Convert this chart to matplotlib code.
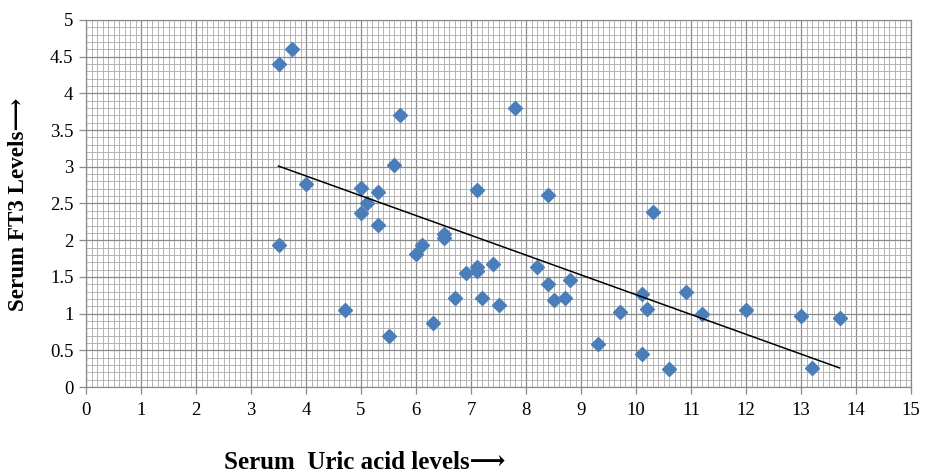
import matplotlib
matplotlib.use("Agg")
import matplotlib.pyplot as plt
from matplotlib.ticker import MultipleLocator, FuncFormatter

# Data
uric_acid = [3.5, 3.75, 3.5, 4.0, 4.7, 5.0, 5.0, 5.1, 5.3, 5.3, 5.5, 5.6, 5.7,
             6.0, 6.1, 6.3, 6.5, 6.5, 6.7, 6.9, 7.1, 7.1, 7.1, 7.2, 7.4, 7.5,
             7.8, 8.2, 8.4, 8.4, 8.5, 8.7, 8.8, 9.3, 9.7, 10.1, 10.1, 10.2,
             10.3, 10.6, 10.9, 11.2, 12.0, 13.0, 13.2, 13.7]
ft3 = [4.40, 4.60, 1.93, 2.77, 1.05, 2.71, 2.37, 2.50, 2.65, 2.21, 0.70, 3.02, 3.70,
       1.81, 1.94, 0.87, 2.09, 2.03, 1.21, 1.55, 1.64, 1.58, 2.68, 1.21, 1.67, 1.12,
       3.80, 1.63, 1.40, 2.62, 1.19, 1.21, 1.46, 0.59, 1.02, 1.27, 0.45, 1.06,
       2.38, 0.24, 1.30, 0.99, 1.05, 0.97, 0.26, 0.94]
trend_x = [3.5, 13.7]
trend_y = [3.01, 0.26]

x_label = "Serum  Uric acid levels\u27f6"
y_label = "Serum FT3 Levels\u27f6"

fam = ["Liberation Serif", "DejaVu Serif", "DejaVu Sans"]
plt.rcParams["font.family"] = fam

fig = plt.figure(figsize=(9.3, 4.73), dpi=100)
ax = fig.add_axes([86/930, 1-387/473, (911-86)/930, (387-20)/473])

ax.set_xlim(0, 15)
ax.set_ylim(0, 5)
ax.xaxis.set_major_locator(MultipleLocator(1))
ax.xaxis.set_minor_locator(MultipleLocator(0.1))
ax.yaxis.set_major_locator(MultipleLocator(0.5))
ax.yaxis.set_minor_locator(MultipleLocator(0.1))
ax.yaxis.set_major_formatter(FuncFormatter(lambda v, p: f"{v:g}"))

ax.grid(which="minor", color="#b0b0b0", linewidth=0.65)
ax.grid(which="major", color="#8a8a8a", linewidth=0.9)
ax.set_axisbelow(True)

for s in ax.spines.values():
    s.set_color("#8a8a8a")
    s.set_linewidth(0.9)

ax.tick_params(which="minor", length=0)
ax.tick_params(which="major", length=5, width=0.9, color="#8a8a8a",
               labelsize=13.5, pad=6)
ax.tick_params(axis="y", pad=4)

ax.plot(uric_acid, ft3, linestyle="none", marker="D", markersize=7.6,
        color="#4a7ebb", zorder=3)
ax.plot(trend_x, trend_y, color="black", linewidth=1.1, zorder=4)

fig.text(365/930, 1-462/473, x_label, fontsize=18, fontweight="bold",
         ha="center", va="center")
fig.text(19/930, 1-204/473, y_label, fontsize=16.6, fontweight="bold",
         ha="center", va="center", rotation=90)

fig.savefig("out.png", dpi=100)
